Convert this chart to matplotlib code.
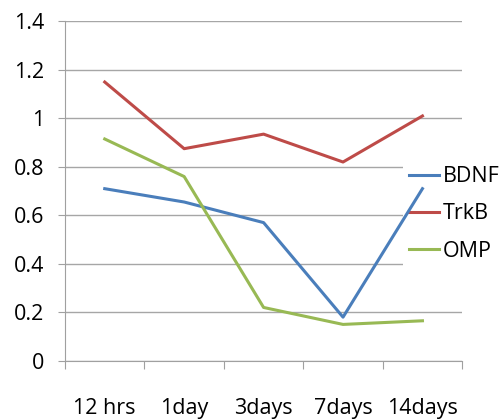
import matplotlib.pyplot as plt

plt.rcParams['font.family'] = ['Open Sans', 'DejaVu Sans']

times = ['12 hrs', '1day', '3days', '7days', '14days']
bdnf = [0.71, 0.655, 0.57, 0.18, 0.71]
trkb = [1.15, 0.875, 0.935, 0.82, 1.01]
omp = [0.915, 0.76, 0.22, 0.15, 0.165]

fig = plt.figure(figsize=(5.04, 4.2), dpi=100)
ax = fig.add_axes([0.129, 0.141, 0.788, 0.808])

x = range(len(times))
ax.plot(x, bdnf, color='#4a7ebb', lw=2.2, label='BDNF', zorder=3)
ax.plot(x, trkb, color='#be4b48', lw=2.2, label='TrkB', zorder=3)
ax.plot(x, omp, color='#98b954', lw=2.2, label='OMP', zorder=3)

ax.set_xlim(-0.5, len(times) - 0.5)
ax.set_ylim(0, 1.4)
ax.set_yticks([0, 0.2, 0.4, 0.6, 0.8, 1.0, 1.2, 1.4])
ax.set_yticklabels(['0', '0.2', '0.4', '0.6', '0.8', '1', '1.2', '1.4'])
ax.set_xticks([i - 0.5 for i in range(len(times) + 1)], minor=False)
ax.set_xticklabels([])
ax.set_xticks(list(x), minor=True)
ax.set_xticklabels(times, minor=True)
ax.tick_params(axis='x', which='minor', length=0, pad=27, labelsize=15.5)
ax.tick_params(axis='x', which='major', length=6, color='#a0a0a0')
ax.tick_params(axis='y', length=5, color='#a0a0a0', labelsize=15.5, pad=10)

ax.yaxis.grid(True, color='#a6a6a6', lw=1)
ax.set_axisbelow(True)
for s in ['top', 'right']:
    ax.spines[s].set_visible(False)
ax.spines['left'].set_color('#a0a0a0')
ax.spines['bottom'].set_color('#a0a0a0')

leg = ax.legend(loc='upper left', bbox_to_anchor=(0.85, 0.592), frameon=True,
                fontsize=15.5, handlelength=1.4, handletextpad=0.15,
                labelspacing=0.75, borderpad=0.3, borderaxespad=0)
leg.get_frame().set_facecolor('white')
leg.get_frame().set_edgecolor('none')
leg.get_frame().set_alpha(1)
leg.get_frame().set_boxstyle('square', pad=0)
leg.set_zorder(2)

fig.savefig('out.png', dpi=100)
